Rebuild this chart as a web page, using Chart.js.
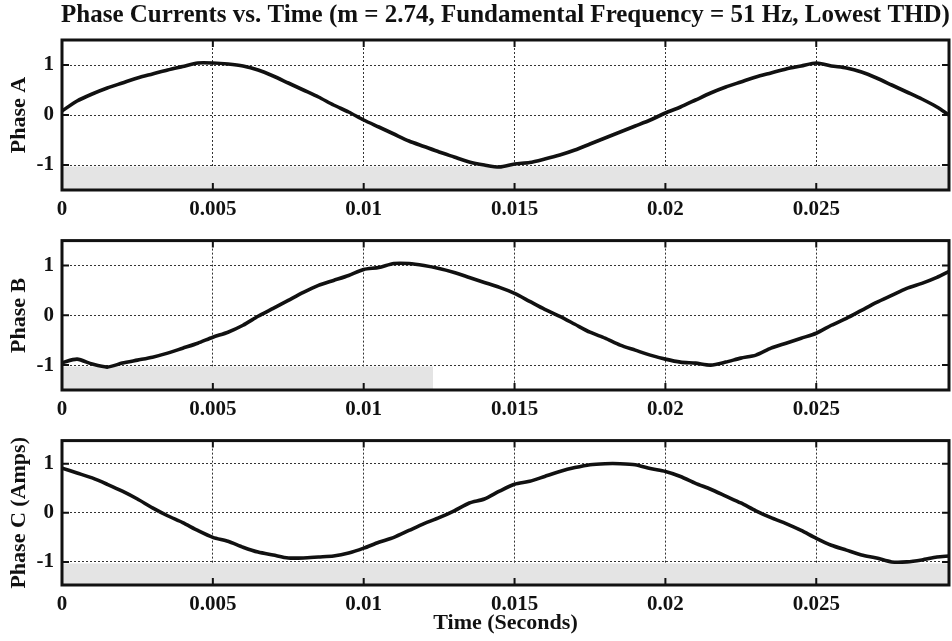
<!DOCTYPE html>
<html>
<head>
<meta charset="utf-8">
<title>Phase Currents vs. Time</title>
<script src="https://cdn.jsdelivr.net/npm/chart.js@4.4.0/dist/chart.umd.min.js"></script>
<style>
  html, body { margin: 0; padding: 0; background: #fff; }
  #wrap { position: relative; width: 952px; height: 641px; }
  canvas { position: absolute; left: 0; }
</style>
</head>
<body>
<div id="wrap">
  <canvas id="phaseA" width="952" height="220" style="top:0px"></canvas>
  <canvas id="phaseB" width="952" height="200" style="top:220px"></canvas>
  <canvas id="phaseC" width="952" height="221" style="top:420px"></canvas>
</div>
<script>
// values (time in seconds, current in amps)
const chartTitle = 'Phase Currents vs. Time (m = 2.74, Fundamental Frequency = 51 Hz, Lowest THD)';

const timeSec = [
  0, 0.0005, 0.001, 0.0015, 0.002, 0.0025, 0.003, 0.0035, 0.004, 0.0045,
  0.005, 0.0055, 0.006, 0.0065, 0.007, 0.0075, 0.008, 0.0085, 0.009, 0.0095,
  0.01, 0.0105, 0.011, 0.0115, 0.012, 0.0125, 0.013, 0.0135, 0.014, 0.0145,
  0.015, 0.0155, 0.016, 0.0165, 0.017, 0.0175, 0.018, 0.0185, 0.019, 0.0195,
  0.02, 0.0205, 0.021, 0.0215, 0.022, 0.0225, 0.023, 0.0235, 0.024, 0.0245,
  0.025, 0.0255, 0.026, 0.0265, 0.027, 0.0275, 0.028, 0.0285, 0.029, 0.0294
];

const phaseA = [
  0.08, 0.28, 0.42, 0.54, 0.64, 0.74, 0.82, 0.90, 0.97, 1.04,
  1.04, 1.02, 0.98, 0.90, 0.78, 0.64, 0.50, 0.36, 0.20, 0.06,
  -0.10, -0.24, -0.38, -0.52, -0.63, -0.74, -0.84, -0.94, -1.00, -1.04,
  -0.98, -0.95, -0.88, -0.80, -0.70, -0.58, -0.46, -0.34, -0.22, -0.10,
  0.04, 0.16, 0.30, 0.44, 0.56, 0.66, 0.76, 0.84, 0.92, 0.98,
  1.04, 0.98, 0.94, 0.86, 0.74, 0.60, 0.46, 0.32, 0.16, 0.00
];

const phaseB = [
  -0.95, -0.88, -0.98, -1.04, -0.96, -0.90, -0.84, -0.76, -0.66, -0.56,
  -0.44, -0.34, -0.20, -0.02, 0.14, 0.30, 0.46, 0.60, 0.70, 0.80,
  0.92, 0.96, 1.04, 1.04, 1.00, 0.94, 0.86, 0.76, 0.66, 0.56,
  0.44, 0.28, 0.12, -0.02, -0.18, -0.34, -0.46, -0.60, -0.70, -0.80,
  -0.88, -0.94, -0.96, -1.00, -0.94, -0.86, -0.80, -0.66, -0.56, -0.46,
  -0.36, -0.20, -0.06, 0.10, 0.26, 0.40, 0.54, 0.64, 0.76, 0.88
];

const phaseC = [
  0.91, 0.81, 0.71, 0.58, 0.44, 0.28, 0.10, -0.06, -0.20, -0.36,
  -0.50, -0.58, -0.70, -0.80, -0.86, -0.92, -0.92, -0.90, -0.88, -0.82,
  -0.72, -0.60, -0.50, -0.36, -0.22, -0.10, 0.04, 0.20, 0.28, 0.44,
  0.58, 0.64, 0.74, 0.84, 0.92, 0.98, 1.00, 1.00, 0.98, 0.90,
  0.84, 0.74, 0.60, 0.48, 0.34, 0.20, 0.04, -0.10, -0.22, -0.36,
  -0.52, -0.66, -0.76, -0.86, -0.92, -1.00, -1.00, -0.96, -0.90, -0.88
];

const xTickValues = [0, 0.005, 0.01, 0.015, 0.02, 0.025];
const xTickLabels = ['0', '0.005', '0.01', '0.015', '0.02', '0.025'];
const yTickValues = [-1, 0, 1];
const yTickLabels = ['-1', '0', '1'];

// light grey band under the -1 line (right edge per panel, top)
const shadeTop = -1.03;
const shadeEnd = [0.0294, 0.0123, 0.0294];

const FONT = "'Liberation Serif', 'Times New Roman', serif";
const INK = '#111';

// thick box round the plot, with short inward ticks
const framePlugin = {
  id: 'frame',
  afterDatasetsDraw(chart) {
    const { ctx, chartArea: a, scales } = chart;
    ctx.save();
    ctx.strokeStyle = INK;
    ctx.lineWidth = 3;
    ctx.strokeRect(a.left, a.top, a.right - a.left, a.bottom - a.top);
    ctx.lineWidth = 2;
    ctx.beginPath();
    xTickValues.forEach(v => {
      const px = scales.x.getPixelForValue(v);
      ctx.moveTo(px, a.top); ctx.lineTo(px, a.top + 7);
      ctx.moveTo(px, a.bottom); ctx.lineTo(px, a.bottom - 7);
    });
    yTickValues.forEach(v => {
      const py = scales.y.getPixelForValue(v);
      ctx.moveTo(a.left, py); ctx.lineTo(a.left + 7, py);
      ctx.moveTo(a.right, py); ctx.lineTo(a.right - 7, py);
    });
    ctx.stroke();
    ctx.restore();
  }
};

// main title, centred over the plot area rather than the canvas
const titlePlugin = {
  id: 'topTitle',
  afterDraw(chart) {
    if (!chart.options.plugins.topTitle || !chart.options.plugins.topTitle.text) return;
    const { ctx, chartArea: a } = chart;
    ctx.save();
    ctx.fillStyle = INK;
    ctx.font = 'bold 25px ' + FONT;
    ctx.textAlign = 'center';
    ctx.textBaseline = 'middle';
    ctx.fillText(chart.options.plugins.topTitle.text, (a.left + a.right) / 2, 16);
    ctx.restore();
  }
};

function makePanel(canvasId, values, yLabel, p) {
  const points = timeSec.map((t, i) => ({ x: t, y: values[i] }));
  const shade = [{ x: 0, y: shadeTop }, { x: p.shadeEnd, y: shadeTop }];

  return new Chart(document.getElementById(canvasId), {
    type: 'line',
    data: {
      datasets: [{
        label: yLabel,
        data: points,
        borderColor: INK,
        borderWidth: 3.6,
        pointRadius: 0,
        tension: 0.25,
        fill: false,
        order: 1
      }, {
        label: 'shade',
        data: shade,
        borderWidth: 0,
        pointRadius: 0,
        backgroundColor: '#e4e4e4',
        fill: 'start',
        order: 2
      }]
    },
    options: {
      responsive: false,
      animation: false,
      events: [],
      layout: { padding: { top: p.padTop, right: 3, left: 0, bottom: 0 } },
      plugins: {
        legend: { display: false },
        tooltip: { enabled: false },
        topTitle: { text: p.title || '' }
      },
      scales: {
        x: {
          type: 'linear',
          min: 0,
          max: 0.0294,
          afterFit(scale) { scale.height = p.xHeight; },
          afterBuildTicks(scale) { scale.ticks = xTickValues.map(v => ({ value: v })); },
          grid: { color: '#333', lineWidth: 1, drawTicks: false },
          border: { display: false, dash: [2, 2] },
          ticks: {
            padding: 7,
            color: INK,
            maxRotation: 0,
            font: { family: FONT, size: 21, weight: 'bold' },
            callback: (v, i) => xTickLabels[i]
          },
          title: {
            display: !!p.xTitle,
            text: p.xTitle || '',
            color: INK,
            font: { family: FONT, size: 22, weight: 'bold' },
            padding: { top: 0, bottom: 4 }
          }
        },
        y: {
          min: p.yMin,
          max: p.yMax,
          afterFit(scale) { scale.width = 62; },
          afterBuildTicks(scale) { scale.ticks = yTickValues.map(v => ({ value: v })); },
          grid: { color: '#333', lineWidth: 1, drawTicks: false },
          border: { display: false, dash: [2, 2] },
          ticks: {
            padding: 8,
            color: INK,
            font: { family: FONT, size: 21, weight: 'bold' },
            callback: (v, i) => yTickLabels[i]
          },
          title: {
            display: true,
            text: yLabel,
            color: INK,
            font: { family: FONT, size: 22, weight: 'bold' },
            padding: { top: 6, bottom: 0 }
          }
        }
      }
    },
    plugins: [framePlugin, titlePlugin]
  });
}

makePanel('phaseA', phaseA, 'Phase A', {
  title: chartTitle, padTop: 40, xHeight: 30, yMin: -1.5, yMax: 1.5, shadeEnd: shadeEnd[0]
});
makePanel('phaseB', phaseB, 'Phase B', {
  padTop: 20, xHeight: 30, yMin: -1.5, yMax: 1.5, shadeEnd: shadeEnd[1]
});
makePanel('phaseC', phaseC, 'Phase C (Amps)', {
  padTop: 20, xHeight: 56, yMin: -1.47, yMax: 1.47, shadeEnd: shadeEnd[2],
  xTitle: 'Time (Seconds)'
});
</script>
</body>
</html>
